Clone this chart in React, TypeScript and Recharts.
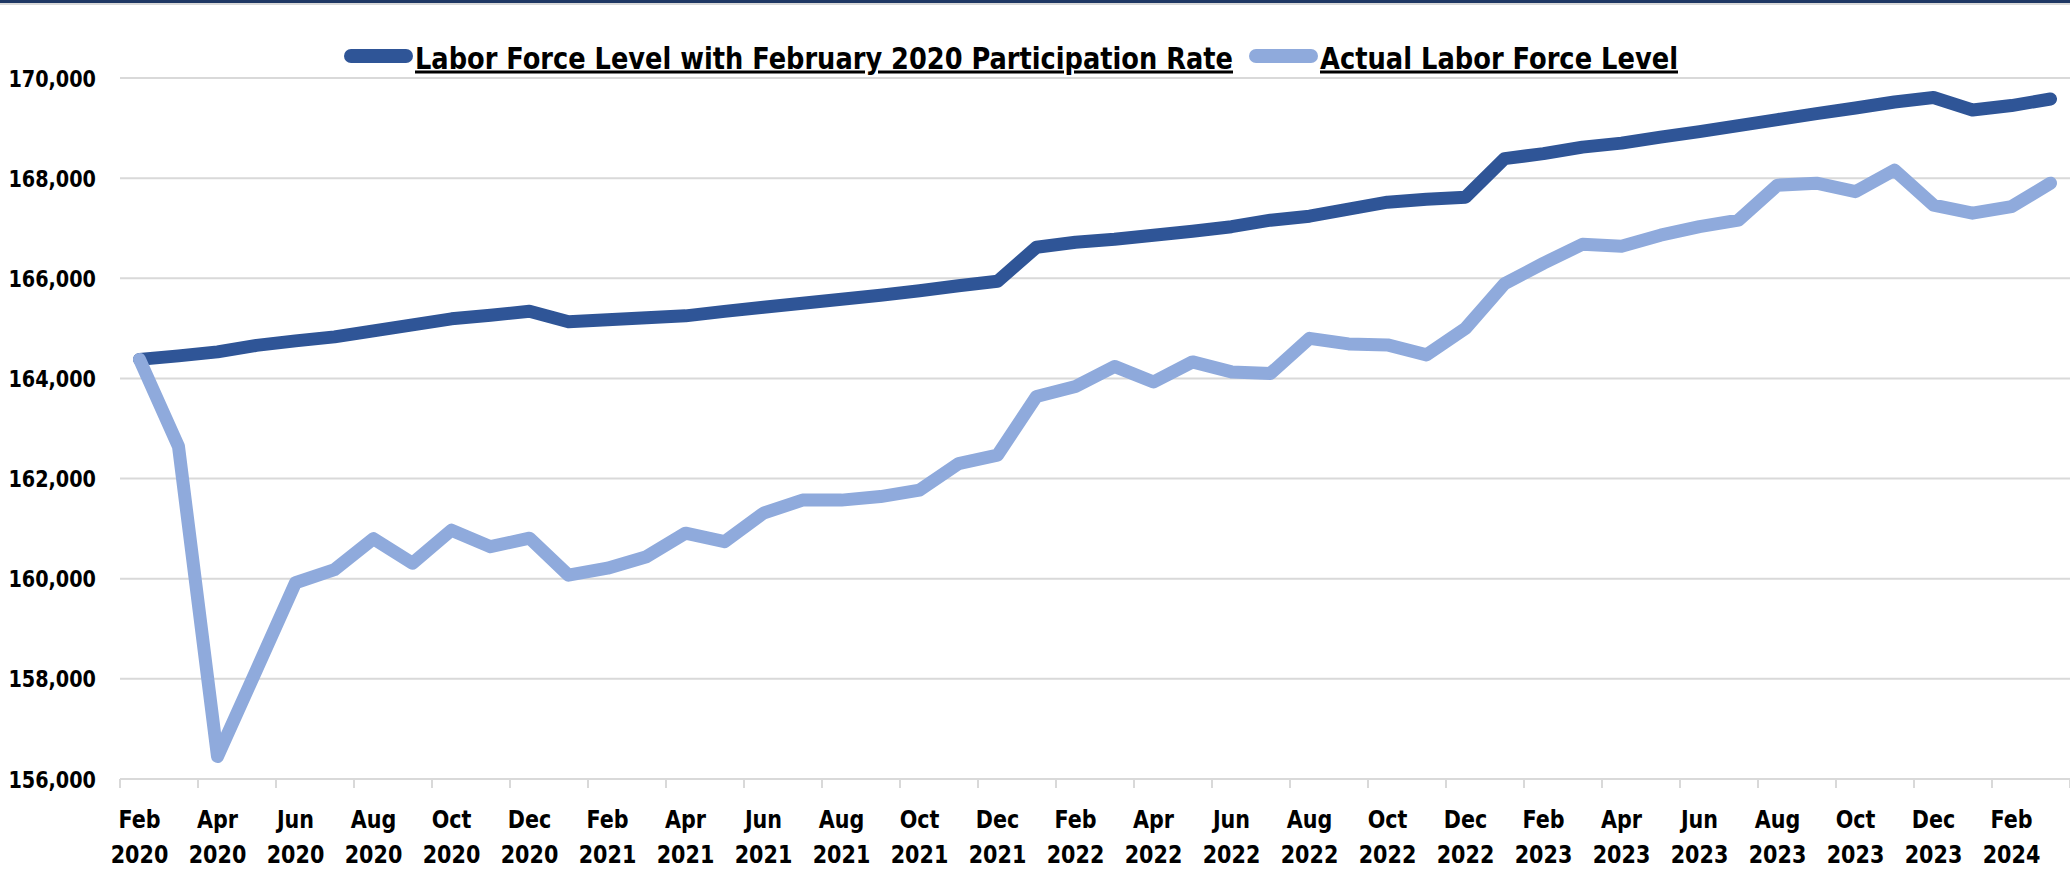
import React from 'react';
import { LineChart, Line, XAxis, YAxis, CartesianGrid } from 'recharts';

const months: string[] = [
  'Feb 2020', 'Mar 2020', 'Apr 2020', 'May 2020', 'Jun 2020', 'Jul 2020', 'Aug 2020', 'Sep 2020', 'Oct 2020', 'Nov 2020', 'Dec 2020',
  'Jan 2021', 'Feb 2021', 'Mar 2021', 'Apr 2021', 'May 2021', 'Jun 2021', 'Jul 2021', 'Aug 2021', 'Sep 2021', 'Oct 2021', 'Nov 2021', 'Dec 2021',
  'Jan 2022', 'Feb 2022', 'Mar 2022', 'Apr 2022', 'May 2022', 'Jun 2022', 'Jul 2022', 'Aug 2022', 'Sep 2022', 'Oct 2022', 'Nov 2022', 'Dec 2022',
  'Jan 2023', 'Feb 2023', 'Mar 2023', 'Apr 2023', 'May 2023', 'Jun 2023', 'Jul 2023', 'Aug 2023', 'Sep 2023', 'Oct 2023', 'Nov 2023', 'Dec 2023',
  'Jan 2024', 'Feb 2024', 'Mar 2024',
];

const feb2020RateLevel: number[] = [
  164380, 164450, 164530, 164660, 164750, 164830, 164950, 165070, 165190, 165260, 165340,
  165130, 165170, 165210, 165250, 165340, 165420, 165500, 165580, 165660, 165750, 165850, 165940,
  166620, 166720, 166780, 166860, 166940, 167030, 167160, 167240, 167380, 167520, 167580, 167620,
  168390, 168490, 168620, 168700, 168820, 168930, 169050, 169170, 169290, 169400, 169520, 169610,
  169360, 169450, 169580,
];

const actualLevel: number[] = [
  164380, 162640, 156450, 158180, 159920, 160180, 160800, 160310, 160970, 160640, 160810,
  160070, 160210, 160440, 160910, 160740, 161310, 161570, 161570, 161640, 161770, 162300, 162470,
  163640, 163840, 164240, 163930, 164330, 164130, 164100, 164800, 164690, 164670, 164470, 165000,
  165890, 166300, 166680, 166640, 166860, 167030, 167160, 167860, 167900, 167730, 168160, 167460,
  167300, 167430, 167900,
];

const yTicks: number[] = [156000, 158000, 160000, 162000, 164000, 166000, 168000, 170000];

const seriesKeys = ['feb2020Rate', 'actual'];
const seriesNames = ['Labor Force Level with February 2020 Participation Rate', 'Actual Labor Force Level'];
const seriesColors = ['#2F5597', '#8FAADC'];

const data = months.map((m, i) => ({
  idx: i,
  month: m,
  feb2020Rate: feb2020RateLevel[i],
  actual: actualLevel[i],
}));

// label ticks every other month, boundary tick marks between pairs of months
const labelTicks = months.map((_, i) => i).filter((i) => i % 2 === 0);
const boundaryTicks = [-0.5, ...labelTicks.map((i) => i + 1.5)];
const xTicks = [...labelTicks, ...boundaryTicks].sort((a, b) => a - b);

const FONT = "'DejaVu Sans Condensed', 'DejaVu Sans', sans-serif";
const GRID = '#D9D9D9';

const XTick = (props: any) => {
  const { x, y, payload } = props;
  const v = payload.value as number;
  if (!Number.isInteger(v)) {
    return <line x1={x} x2={x} y1={y} y2={y + 9} stroke={GRID} strokeWidth={2} />;
  }
  const [mon, yr] = months[v].split(' ');
  return (
    <g transform={`translate(${x},${y}) scale(0.92,1)`}>
      <text x={0} y={0} textAnchor="middle" fill="#000" fontFamily={FONT} fontWeight={700} fontSize={25} style={{ fontStretch: 'condensed' }}>
        <tspan x={0} dy={49}>{mon}</tspan>
        <tspan x={0} dy={35}>{yr}</tspan>
      </text>
    </g>
  );
};

const YTick = (props: any) => {
  const { x, y, payload } = props;
  return (
    <g transform={`translate(${x},${y}) scale(0.91,1)`}>
      <text x={0} y={0} dy={8.5} textAnchor="end" fill="#000" fontFamily={FONT} fontWeight={700} fontSize={23.5} style={{ fontStretch: 'condensed' }}>
        {Number(payload.value).toLocaleString('en-US')}
      </text>
    </g>
  );
};

const legendLayout = { startX: 344, cy: 56, swatchW: 69, swatchH: 14, textGap: 2, itemGap: 16, baseline: 68.5, textWidths: [818, 358] };

const LegendOverlay = () => {
  let cx = legendLayout.startX;
  const items = seriesNames.map((name, i) => {
    const sx = cx;
    const tx = sx + legendLayout.swatchW + legendLayout.textGap;
    cx = tx + legendLayout.textWidths[i] + legendLayout.itemGap;
    return (
      <g key={name}>
        <line
          x1={sx + legendLayout.swatchH / 2}
          x2={sx + legendLayout.swatchW - legendLayout.swatchH / 2}
          y1={legendLayout.cy}
          y2={legendLayout.cy}
          stroke={seriesColors[i]}
          strokeWidth={legendLayout.swatchH}
          strokeLinecap="round"
        />
        <text
          x={tx}
          y={legendLayout.baseline}
          fill="#000"
          fontFamily={FONT}
          fontWeight={700}
          fontSize={30}
          textLength={legendLayout.textWidths[i]}
          lengthAdjust="spacingAndGlyphs"
          style={{ fontStretch: 'condensed', textDecoration: 'underline' }}
        >
          {name}
        </text>
      </g>
    );
  });
  return (
    <svg width={2070} height={80} style={{ position: 'absolute', left: 0, top: 0, pointerEvents: 'none' }}>
      {items}
    </svg>
  );
};

export default function App() {
  return (
    <div style={{ position: 'absolute', left: 0, top: 0, width: 2070, height: 882, background: '#fff', overflow: 'hidden' }}>
      <div style={{ position: 'absolute', left: 0, top: 0, width: 2070, height: 3, background: '#1F3864' }} />
      <div style={{ position: 'absolute', left: 0, top: 3, width: 2070, height: 2, background: '#D9D9D9' }} />
      <LineChart width={2070} height={882} data={data} margin={{ top: 78, right: 0, bottom: 0, left: 0 }}>
        <CartesianGrid vertical={false} stroke={GRID} strokeWidth={2} />
        <XAxis
          dataKey="idx"
          type="number"
          domain={[-0.5, 49.5]}
          ticks={xTicks}
          interval={0}
          tick={<XTick />}
          tickLine={false}
          tickSize={0}
          tickMargin={0}
          axisLine={{ stroke: GRID, strokeWidth: 2 }}
          height={103}
          allowDataOverflow
        />
        <YAxis
          type="number"
          domain={[156000, 170000]}
          ticks={yTicks}
          interval={0}
          width={120}
          axisLine={false}
          tickLine={false}
          tickSize={0}
          tickMargin={24}
          tick={<YTick />}
          allowDataOverflow
        />
        {seriesKeys.map((k, i) => (
          <Line
            key={k}
            type="linear"
            dataKey={k}
            name={seriesNames[i]}
            stroke={seriesColors[i]}
            strokeWidth={13}
            strokeLinecap="round"
            strokeLinejoin="round"
            dot={false}
            activeDot={false}
            isAnimationActive={false}
          />
        ))}
      </LineChart>
      <LegendOverlay />
    </div>
  );
}
